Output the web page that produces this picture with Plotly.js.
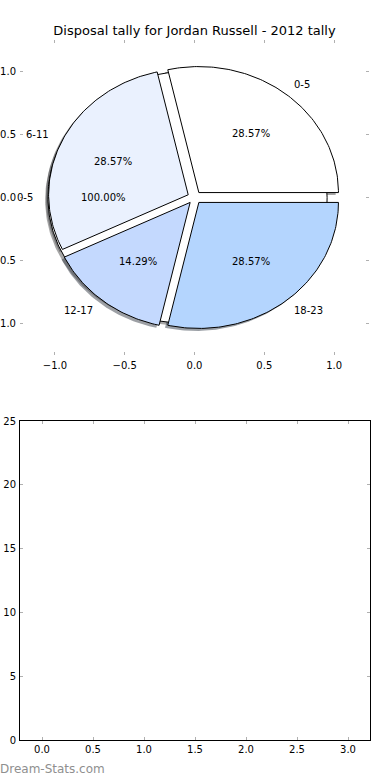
<!DOCTYPE html>
<html>
<head>
<meta charset="utf-8">
<script src="https://cdn.plot.ly/plotly-3.0.1.min.js"></script>
<style>
  html, body { margin: 0; padding: 0; background: #ffffff; }
  #chart { width: 390px; height: 780px; }
</style>
</head>
<body>
<div id="chart"></div>
<script>
// ---- data ----
const titleText = 'Disposal tally for Jordan Russell - 2012 tally';
const pieLabels = ['0-5', '6-11', '12-17', '18-23'];
const pieValues = [2, 2, 1, 2];
const totalLabels = ['0-5'];
const totalValues = [1];
const pieTicks = [-1.0, -0.5, 0.0, 0.5, 1.0];
const barXTicks = [0.0, 0.5, 1.0, 1.5, 2.0, 2.5, 3.0];
const barYTicks = [0, 5, 10, 15, 20, 25];
const watermark = 'Dream-Stats.com';

// ---- styles ----
const pieColors = ['#ffffff', '#eaf1fe', '#c4d9fe', '#b4d5fe'];
const totalColors = ['#ffffff'];
const explode = 0.05;
const FONT = 'DejaVu Sans, sans-serif';
const W = 390, H = 780;

function rgbParts(hex) {
  return [parseInt(hex.substr(1, 2), 16), parseInt(hex.substr(3, 2), 16), parseInt(hex.substr(5, 2), 16)];
}

function buildPie(labels, values, colors) {
  const total = values.reduce((a, b) => a + b, 0);
  let start = 0;
  return values.map((v, i) => {
    const sweep = v / total * 360;
    const t1 = start, t2 = start + sweep;
    start = t2;
    const mid = (t1 + t2) / 2 * Math.PI / 180;
    const cx = explode * Math.cos(mid), cy = explode * Math.sin(mid);
    const xs = [], ys = [];
    const full = Math.abs(sweep - 360) < 1e-9;
    if (!full) { xs.push(cx); ys.push(cy); }
    const n = Math.max(2, Math.ceil(sweep));
    for (let k = 0; k <= n; k++) {
      const a = (t1 + (t2 - t1) * k / n) * Math.PI / 180;
      xs.push(cx + Math.cos(a));
      ys.push(cy + Math.sin(a));
    }
    if (!full) { xs.push(cx); ys.push(cy); }
    return {
      label: labels[i], color: colors[i], xs, ys,
      pct: (v / total * 100).toFixed(2) + '%',
      lx: cx + 1.1 * Math.cos(mid), ly: cy + 1.1 * Math.sin(mid),
      px: cx + 0.6 * Math.cos(mid), py: cy + 0.6 * Math.sin(mid)
    };
  });
}

const wedgesTotal = buildPie(totalLabels, totalValues, totalColors);
const wedgesMain = buildPie(pieLabels, pieValues, pieColors);
const allWedges = wedgesTotal.concat(wedgesMain);

const traces = [];
// shadows first
allWedges.forEach(w => {
  const c = rgbParts(w.color).map(v => Math.round(v * 0.3));
  traces.push({
    type: 'scatter', mode: 'lines', xaxis: 'x', yaxis: 'y',
    x: w.xs.map(v => v - 0.02), y: w.ys.map(v => v - 0.02),
    fill: 'toself', fillcolor: `rgba(${c[0]},${c[1]},${c[2]},0.5)`,
    line: { width: 0 }, hoverinfo: 'skip', showlegend: false
  });
});
// wedges
allWedges.forEach(w => {
  traces.push({
    type: 'scatter', mode: 'lines', xaxis: 'x', yaxis: 'y',
    x: w.xs, y: w.ys, fill: 'toself', fillcolor: w.color,
    line: { color: '#000000', width: 1 }, name: w.label,
    hoverinfo: 'skip', showlegend: false
  });
});
// empty lower axes
traces.push({ type: 'scatter', mode: 'markers', x: [], y: [], xaxis: 'x2', yaxis: 'y2', showlegend: false });

const annotations = [];
allWedges.forEach(w => {
  annotations.push({
    x: w.lx, y: w.ly, xref: 'x', yref: 'y', text: w.label, showarrow: false,
    xanchor: w.lx > 0 ? 'left' : 'right', yanchor: 'middle',
    xshift: w.lx > 0 ? -2 : 0,
    font: { family: FONT, size: 10, color: '#000' }, borderpad: 0
  });
  annotations.push({
    x: w.px, y: w.py, xref: 'x', yref: 'y', text: w.pct, showarrow: false,
    xanchor: 'center', yanchor: 'middle',
    font: { family: FONT, size: 10, color: '#000' }, borderpad: 0
  });
});
annotations.push({
  x: 0, y: 1 - 769 / H, xref: 'paper', yref: 'paper', text: watermark, showarrow: false,
  xanchor: 'left', yanchor: 'middle', xshift: -1,
  font: { family: FONT, size: 12, color: '#8f8f8f' }, borderpad: 0
});

const tickStyle = {
  ticks: 'inside', ticklen: 3, tickwidth: 1, tickcolor: '#b0b0b0',
  showgrid: false, zeroline: false, fixedrange: true,
  tickfont: { family: FONT, size: 10, color: '#000' }, tickformat: '.1f'
};

const layout = {
  width: W, height: H,
  margin: { l: 0, r: 0, t: 0, b: 0 },
  paper_bgcolor: '#ffffff', plot_bgcolor: 'rgba(0,0,0,0)',
  showlegend: false,
  font: { family: FONT, size: 10, color: '#000' },
  title: {
    text: titleText, x: 194.5 / W, xanchor: 'center', xref: 'paper',
    y: 1 - 30 / H, yanchor: 'middle', font: { family: FONT, size: 13, color: '#000' }
  },
  xaxis: Object.assign({}, tickStyle, {
    domain: [20 / W, 369 / W], range: [-1.25, 1.25], anchor: 'y',
    tickvals: pieTicks, showline: false, mirror: 'ticks', ticklabelstandoff: 3
  }),
  yaxis: Object.assign({}, tickStyle, {
    domain: [1 - 355 / H, 1 - 40 / H], range: [-1.25, 1.25], anchor: 'x',
    tickvals: pieTicks, showline: false, mirror: 'ticks', ticklabelstandoff: 3
  }),
  xaxis2: Object.assign({}, tickStyle, {
    domain: [20 / W, 370 / W], range: [-0.2157, 3.2157], anchor: 'y2',
    tickvals: barXTicks, showline: true, linecolor: '#000', linewidth: 1, mirror: 'all'
  }),
  yaxis2: Object.assign({}, tickStyle, {
    domain: [1 - 740 / H, 1 - 421 / H], range: [0, 25], anchor: 'x2',
    tickvals: barYTicks, tickformat: 'd', showline: true, linecolor: '#000', linewidth: 1, mirror: 'all',
    ticklabelstandoff: 1
  }),
  annotations: annotations
};

Plotly.newPlot('chart', traces, layout, { staticPlot: true, displayModeBar: false });
</script>
</body>
</html>
